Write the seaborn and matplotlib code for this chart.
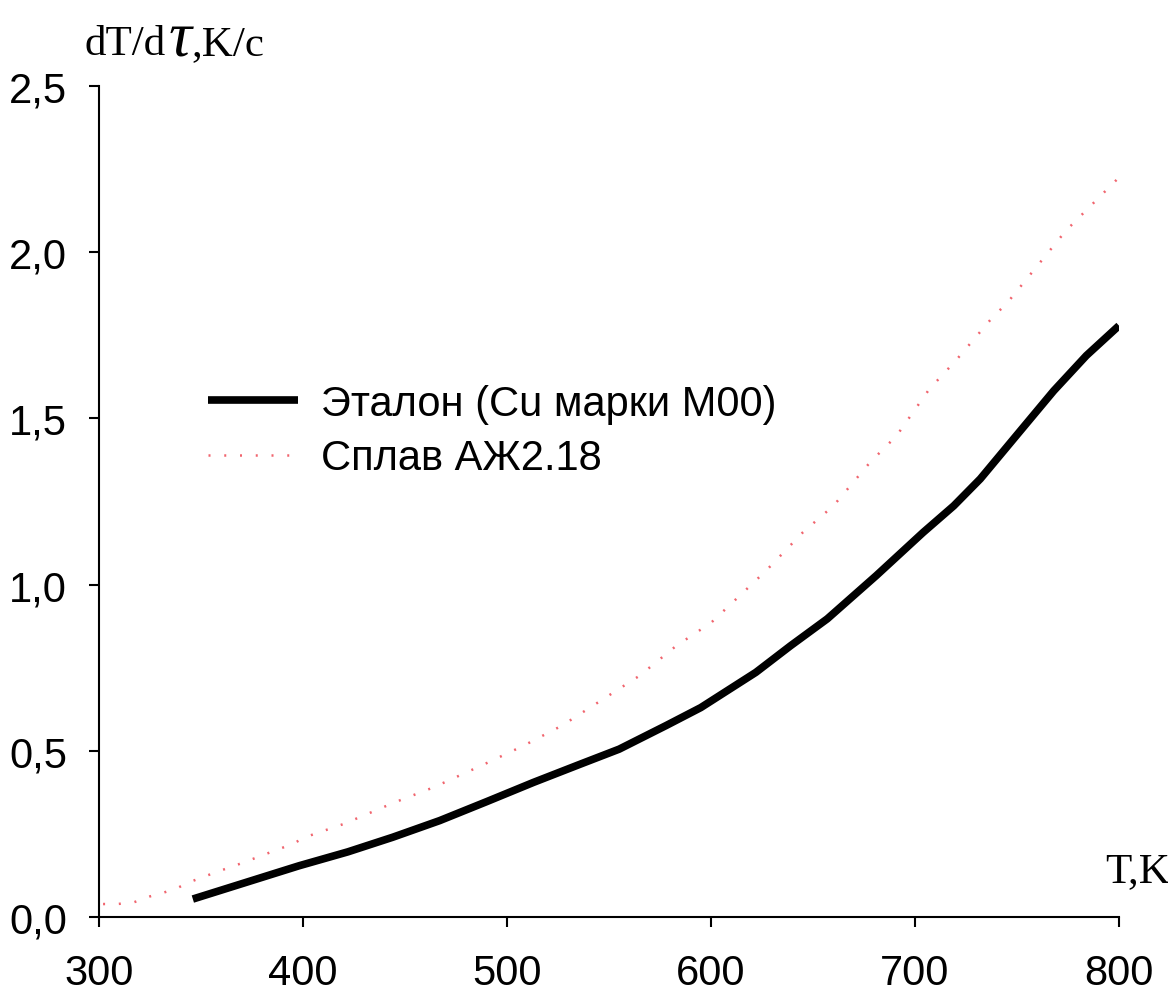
import pandas as pd
import seaborn as sns
import matplotlib.pyplot as plt

# reference sample (Cu M00)
etalon_T = [346, 398, 422, 444, 467, 490, 513, 536, 555, 578, 595, 622, 639, 657, 681, 704, 719,
            732, 751, 768, 784, 800]
etalon_rate = [0.054, 0.154, 0.196, 0.240, 0.290, 0.347, 0.405, 0.460, 0.505, 0.576, 0.630, 0.736,
               0.816, 0.897, 1.027, 1.157, 1.237, 1.318, 1.458, 1.583, 1.689, 1.779]

# alloy AZh2.18
alloy_T = [302, 309, 317, 325, 332, 338, 344, 357, 370, 382, 395, 401, 420, 445, 464, 489, 508,
           527, 546, 565, 583, 600, 615, 627, 645, 660, 678, 691, 707, 720, 738, 745, 774, 800]
alloy_rate = [0.039, 0.039, 0.044, 0.062, 0.074, 0.086, 0.104, 0.134, 0.162, 0.190, 0.220, 0.240,
              0.280, 0.345, 0.390, 0.460, 0.515, 0.576, 0.651, 0.726, 0.816, 0.885, 0.972, 1.042,
              1.157, 1.237, 1.368, 1.448, 1.588, 1.674, 1.804, 1.846, 2.065, 2.225]

etalon_label = "Эталон (Cu марки М00)"
alloy_label = "Сплав АЖ2.18"

x_ticks = [300, 400, 500, 600, 700, 800]
y_ticks = [0.0, 0.5, 1.0, 1.5, 2.0, 2.5]
y_tick_labels = ["0,0", "0,5", "1,0", "1,5", "2,0", "2,5"]

sns.set_theme(style="white")
plt.rcParams['font.family'] = ['Liberation Sans', 'DejaVu Sans']
plt.rcParams['text.color'] = 'black'

fig = plt.figure(figsize=(11.68, 9.95), dpi=100)
ax = fig.add_axes([99 / 1168, 1 - 918 / 995, 1020 / 1168, 831 / 995])

etalon_df = pd.DataFrame({"T": etalon_T, "rate": etalon_rate})
alloy_df = pd.DataFrame({"T": alloy_T, "rate": alloy_rate})

sns.lineplot(data=etalon_df, x="T", y="rate", ax=ax, color="black", linewidth=5.5,
             label=etalon_label, solid_capstyle="butt", solid_joinstyle="round")
sns.lineplot(data=alloy_df, x="T", y="rate", ax=ax, color="#ee4a55", linewidth=1.8,
             linestyle=(0, (0.8, 5.5)), alpha=0.85, label=alloy_label)

ax.set_xlim(300, 800)
ax.set_ylim(0, 2.5)
ax.set_xticks(x_ticks)
ax.set_yticks(y_ticks)
ax.set_yticklabels(y_tick_labels)
ax.set_xlabel("")
ax.set_ylabel("")

sns.despine(ax=ax)
for side in ["left", "bottom"]:
    ax.spines[side].set_color("black")
    ax.spines[side].set_linewidth(1.5)
ax.tick_params(axis="both", which="both", direction="out", length=7, width=1.5,
               colors="black", labelsize=30, bottom=True, left=True)
ax.tick_params(axis="y", pad=16)
ax.tick_params(axis="x", pad=19)
ax.grid(False)

leg = ax.legend(loc="center left", bbox_to_anchor=(0.107, 0.585), frameon=False,
                fontsize=30, handlelength=2.15, handletextpad=0.57, labelspacing=0.35,
                borderpad=0, borderaxespad=0)
for txt in leg.get_texts():
    txt.set_color("black")

# axis captions in a serif face, with a larger tau
serif = ['Liberation Serif', 'DejaVu Serif']
fig.canvas.draw()
renderer = fig.canvas.get_renderer()
y_cap = 1 - 55 / 995
t1 = fig.text(85 / 1168, y_cap, "dT/d", fontsize=31, family=serif, va="baseline")
bb = t1.get_window_extent(renderer)
t2 = fig.text(bb.x1 / 1168 + 0.002, y_cap, "τ", fontsize=46, family=serif,
              style="italic", va="baseline")
bb = t2.get_window_extent(renderer)
fig.text(bb.x1 / 1168, y_cap, ",K/c", fontsize=31, family=serif, va="baseline")

fig.text(1105 / 1168, 1 - 882 / 995, "T,K", fontsize=31, family=serif, va="baseline")

fig.savefig("out.png", dpi=100)
plt.close(fig)
